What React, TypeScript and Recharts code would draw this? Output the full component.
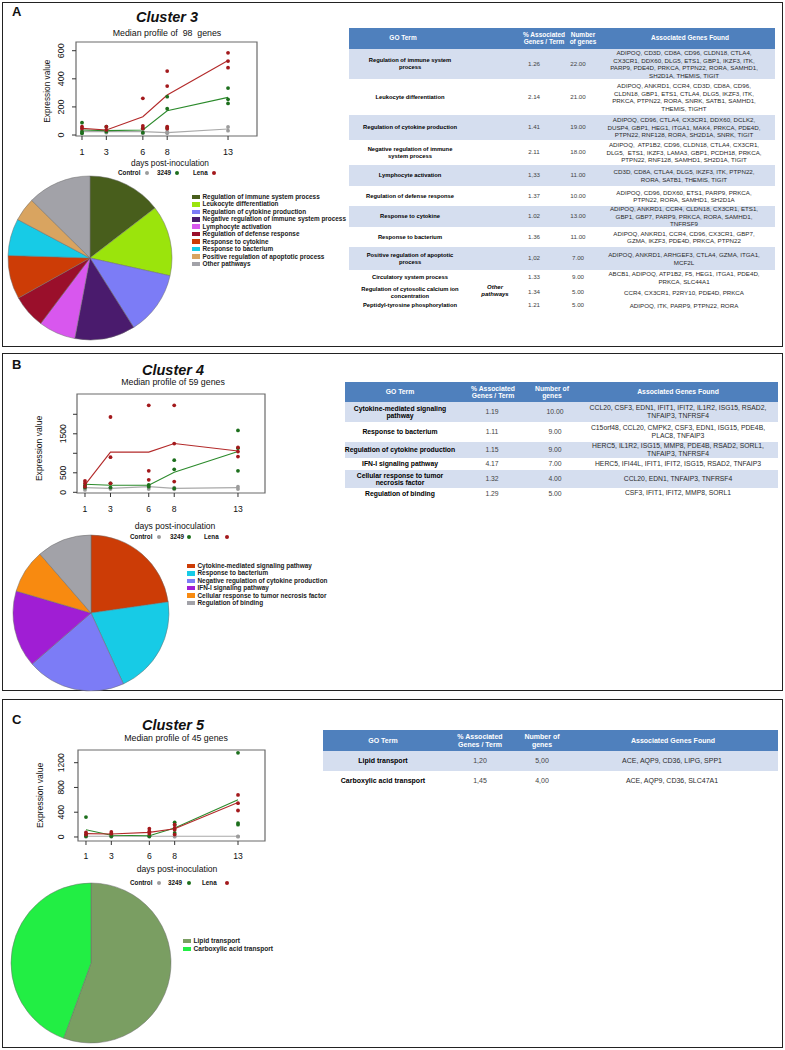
import React from "react";
import { ScatterChart, Scatter, XAxis, YAxis, ReferenceArea, PieChart, Pie, Cell } from "recharts";

const FONT = '"Liberation Sans", Arial, Helvetica, sans-serif';

// ---------- DATA ----------
const days = [1, 3, 6, 8, 13];

// Cluster 3
const c3ControlMedian = [24, 24, 24, 17, 43];
const c3S3249Median = [36, 31, 36, 173, 268];
const c3LenaMedian = [47, 36, 130, 285, 530];
const c3ControlPts = [
  { x: 1, y: 36 }, { x: 1, y: 12 }, { x: 3, y: 31 }, { x: 3, y: 17 }, { x: 6, y: 24 }, { x: 6, y: 12 },
  { x: 8, y: 24 }, { x: 8, y: 12 }, { x: 13, y: 57 }, { x: 13, y: 31 },
];
const c3S3249Pts = [
  { x: 1, y: 88 }, { x: 1, y: 24 }, { x: 1, y: 12 }, { x: 3, y: 59 }, { x: 3, y: 24 }, { x: 6, y: 47 }, { x: 6, y: 17 },
  { x: 8, y: 273 }, { x: 8, y: 187 }, { x: 8, y: 50 }, { x: 13, y: 334 }, { x: 13, y: 254 }, { x: 13, y: 225 },
];
const c3LenaPts = [
  { x: 1, y: 47 }, { x: 1, y: 59 }, { x: 3, y: 36 }, { x: 3, y: 59 }, { x: 6, y: 261 }, { x: 6, y: 64 }, { x: 6, y: 47 },
  { x: 8, y: 455 }, { x: 8, y: 348 }, { x: 8, y: 59 }, { x: 8, y: 45 }, { x: 13, y: 585 }, { x: 13, y: 526 }, { x: 13, y: 479 },
];
const c3YTicks = [0, 200, 400, 600];

// Cluster 4
const c4ControlMedian = [120, 100, 145, 100, 120];
const c4S3249Median = [205, 180, 180, 515, 1045];
const c4LenaMedian = [190, 1030, 1030, 1250, 1060];
const c4ControlPts = [
  { x: 1, y: 100 }, { x: 1, y: 60 }, { x: 3, y: 120 }, { x: 3, y: 85 }, { x: 6, y: 145 }, { x: 6, y: 85 },
  { x: 8, y: 120 }, { x: 8, y: 75 }, { x: 13, y: 145 }, { x: 13, y: 85 },
];
const c4S3249Pts = [
  { x: 1, y: 180 }, { x: 1, y: 120 }, { x: 3, y: 230 }, { x: 3, y: 120 }, { x: 6, y: 190 }, { x: 6, y: 145 },
  { x: 8, y: 823 }, { x: 8, y: 590 }, { x: 8, y: 100 }, { x: 13, y: 1585 }, { x: 13, y: 1130 }, { x: 13, y: 550 },
];
const c4LenaPts = [
  { x: 1, y: 290 }, { x: 1, y: 230 }, { x: 1, y: 145 }, { x: 3, y: 1930 }, { x: 3, y: 900 }, { x: 3, y: 230 },
  { x: 6, y: 2230 }, { x: 6, y: 550 }, { x: 6, y: 320 }, { x: 8, y: 2230 }, { x: 8, y: 1250 }, { x: 8, y: 275 },
  { x: 13, y: 1150 }, { x: 13, y: 1045 }, { x: 13, y: 915 },
];
const c4YTicks = [0, 500, 1000, 1500, 2000];
const c4YLabels = [0, 500, 1500];

// Cluster 5
const c5ControlMedian = [11, 11, 11, 11, 11];
const c5S3249Median = [118, 27, 21, 145, 600];
const c5LenaMedian = [54, 48, 75, 134, 557];
const c5ControlPts = [
  { x: 1, y: 11 }, { x: 1, y: 5 }, { x: 3, y: 11 }, { x: 3, y: 5 }, { x: 6, y: 11 }, { x: 6, y: 5 },
  { x: 8, y: 11 }, { x: 8, y: 5 }, { x: 13, y: 11 }, { x: 13, y: 5 },
];
const c5S3249Pts = [
  { x: 1, y: 321 }, { x: 1, y: 38 }, { x: 1, y: 11 }, { x: 3, y: 38 }, { x: 3, y: 11 }, { x: 6, y: 21 }, { x: 6, y: 11 },
  { x: 8, y: 236 }, { x: 8, y: 198 }, { x: 8, y: 64 }, { x: 13, y: 1360 }, { x: 13, y: 225 }, { x: 13, y: 198 },
];
const c5LenaPts = [
  { x: 1, y: 75 }, { x: 1, y: 38 }, { x: 3, y: 80 }, { x: 3, y: 54 }, { x: 6, y: 134 }, { x: 6, y: 91 }, { x: 6, y: 54 },
  { x: 8, y: 198 }, { x: 8, y: 145 }, { x: 8, y: 118 }, { x: 8, y: 38 }, { x: 13, y: 680 }, { x: 13, y: 546 }, { x: 13, y: 428 },
];
const c5YTicks = [0, 400, 800, 1200];

// Pies
const c3PieLabels = [
  "Regulation of immune system process", "Leukocyte differentiation", "Regulation of cytokine production",
  "Negative regulation of immune system process", "Lymphocyte activation", "Regulation of defense response",
  "Response to cytokine", "Response to bacterium", "Positive regulation of apoptotic process", "Other pathways",
];
const c3PieCounts = [22, 21, 19, 18, 11, 10, 13, 11, 7, 19];
const c3PieColors = ["#485e1c", "#9be40c", "#7c7cf6", "#4a1b6d", "#d857ee", "#9a0f2b", "#cd3c06", "#17cbe6", "#d9a460", "#a2a2a8"];

const c4PieLabels = [
  "Cytokine-mediated signaling pathway", "Response to bacterium", "Negative regulation of cytokine production",
  "IFN-I signaling pathway", "Cellular response to tumor necrosis factor", "Regulation of binding",
];
const c4PieCounts = [10, 9, 9, 7, 4, 5];
const c4PieColors = ["#cc3c06", "#17cbe6", "#7c7cf6", "#a01ed4", "#f88a10", "#a2a2a8"];

const c5PieLabels = ["Lipid transport", "Carboxylic acid transport"];
const c5PieCounts = [5, 4];
const c5PieColors = ["#7a9e62", "#22ee44"];

// Tables
const tHeadA = ["GO Term", "% Associated\nGenes / Term", "Number\nof genes", "Associated Genes Found"];
const tHeadBC = ["GO Term", "% Associated\nGenes / Term", "Number of\ngenes", "Associated Genes Found"];

const c3Terms = [
  "Regulation of immune system\nprocess", "Leukocyte differentiation", "Regulation of cytokine production",
  "Negative regulation of immune\nsystem process", "Lymphocyte activation", "Regulation of defense response",
  "Response to cytokine", "Response to bacterium", "Positive regulation of apoptotic\nprocess",
  "Circulatory system process", "Regulation of cytosolic calcium ion\nconcentration", "Peptidyl-tyrosine phosphorylation",
];
const c3Pct = ["1.26", "2.14", "1.41", "2.11", "1,33", "1.37", "1.02", "1.36", "1,02", "1.33", "1.34", "1.21"];
const c3Num = ["22.00", "21.00", "19.00", "18.00", "11.00", "10.00", "13.00", "11.00", "7.00", "9.00", "5.00", "5.00"];
const c3Genes = [
  "ADIPOQ, CD3D, CD8A, CD96, CLDN18, CTLA4,\nCX3CR1, DDX60, DLG5, ETS1, GBP1, IKZF3, ITK,\nPARP9, PDE4D, PRKCA, PTPN22, RORA, SAMHD1,\nSH2D1A, THEMIS, TIGIT",
  "ADIPOQ, ANKRD1, CCR4, CD3D, CD8A, CD96,\nCLDN18, GBP1, ETS1, CTLA4, DLG5, IKZF3, ITK,\nPRKCA, PTPN22, RORA, SNRK, SATB1, SAMHD1,\nTHEMIS, TIGHT",
  "ADIPOQ, CD96, CTLA4, CX3CR1, DDX60, DCLK2,\nDUSP4, GBP1, HEG1, ITGA1, MAK4, PRKCA, PDE4D,\nPTPN22, RNF128, RORA, SH2D1A, SNRK, TIGIT",
  "ADIPOQ,  ATP1B2, CD96, CLDN18, CTLA4, CX3CR1,\nDLG5,  ETS1, IKZF3, LAMA3, GBP1, PCDH18, PRKCA,\nPTPN22, RNF128, SAMHD1, SH2D1A, TIGIT",
  "CD3D, CD8A, CTLA4, DLG5, IKZF3, ITK, PTPN22,\nRORA, SATB1, THEMIS, TIGIT",
  "ADIPOQ, CD96, DDX60, ETS1, PARP9, PRKCA,\nPTPN22, RORA, SAMHD1, SH2D1A",
  "ADIPOQ, ANKRD1, CCR4, CLDN18, CX3CR1, ETS1,\nGBP1, GBP7, PARP9, PRKCA, RORA, SAMHD1,\nTNFRSF9",
  "ADIPOQ, ANKRD1, CCR4, CD96, CX3CR1, GBP7,\nGZMA, IKZF3, PDE4D, PRKCA, PTPN22",
  "ADIPOQ, ANKRD1, ARHGEF3, CTLA4, GZMA, ITGA1,\nMCF2L",
  "ABCB1, ADIPOQ, ATP1B2, F5, HEG1, ITGA1, PDE4D,\nPRKCA, SLC44A1",
  "CCR4, CX3CR1, P2RY10, PDE4D, PRKCA",
  "ADIPOQ, ITK, PARP9, PTPN22, RORA",
];

const c4Terms = [
  "Cytokine-mediated signaling\npathway", "Response to bacterium", "Regulation of cytokine production",
  "IFN-I signaling pathway", "Cellular response to tumor\nnecrosis factor", "Regulation of binding",
];
const c4Pct = ["1.19", "1.11", "1.15", "4.17", "1.32", "1.29"];
const c4Num = ["10.00", "9.00", "9.00", "7.00", "4.00", "5.00"];
const c4Genes = [
  "CCL20, CSF3, EDN1, IFIT1, IFIT2, IL1R2, ISG15, RSAD2,\nTNFAIP3, TNFRSF4",
  "C15orf48, CCL20, CMPK2, CSF3, EDN1, ISG15, PDE4B,\nPLAC8, TNFAIP3",
  "HERC5, IL1R2, ISG15, MMP8, PDE4B, RSAD2, SORL1,\nTNFAIP3, TNFRSF4",
  "HERC5, IFI44L, IFIT1, IFIT2, ISG15, RSAD2, TNFAIP3",
  "CCL20, EDN1, TNFAIP3, TNFRSF4",
  "CSF3, IFIT1, IFIT2, MMP8, SORL1",
];

const c5Terms = ["Lipid transport", "Carboxylic acid transport"];
const c5Pct = ["1,20", "1,45"];
const c5Num = ["5,00", "4,00"];
const c5Genes = ["ACE, AQP9, CD36, LIPG, SPP1", "ACE, AQP9, CD36, SLC47A1"];

// ---------- STYLE ----------
const DOT = { control: "#9c9c9c", s3249: "#1d6f1d", lena: "#a3191c" };
const LINE = { control: "#a9a9a9", s3249: "#2b8a2b", lena: "#b32a2a" };

const toPts = (ys: number[]) => days.map((d, i) => ({ x: d, y: ys[i] }));

function Txt({ x, y, size, children, bold, italic, anchor = "middle", color = "#111", rotate }: any) {
  const lh = size * 1.25;
  const style: React.CSSProperties = {
    position: "absolute",
    top: y - lh / 2,
    lineHeight: `${lh}px`,
    height: lh,
    fontSize: size,
    fontWeight: bold ? 700 : 400,
    fontStyle: italic ? "italic" : "normal",
    color,
    whiteSpace: "pre",
    fontFamily: FONT,
  };
  if (anchor === "middle") {
    style.left = x - 200;
    style.width = 400;
    style.textAlign = "center";
  } else {
    style.left = x;
  }
  if (rotate) {
    style.transform = `rotate(${rotate}deg)`;
    style.transformOrigin = "50% 50%";
  }
  return <div style={style}>{children}</div>;
}

const dotShape = (color: string) => (p: any) => <circle cx={p.cx} cy={p.cy} r={1.9} fill={color} />;
const noShape = () => <g />;

function ClusterPlot(props: any) {
  const { boxLeft, boxTop, boxRight, boxBottom, xDomain, yDomain, yTicks, yLabels, yOff, xOff, ctrlPts, s3249Pts, lenaPts, ctrlMed, s3249Med, lenaMed, tickSize } = props;
  const mTop = 6;
  const xh = 26;
  const width = boxRight + 8;
  const height = boxBottom - boxTop + mTop + xh;
  const labels = yLabels || yTicks;
  const YTick = (p: any) => {
    const v = p.payload.value;
    if (!labels.includes(v)) return <g />;
    const tx = p.x - yOff;
    return (
      <text x={tx} y={p.y} transform={`rotate(-90 ${tx} ${p.y})`} textAnchor="middle" dominantBaseline="central" fontSize={tickSize} fontFamily={FONT} fill="#111">
        {v}
      </text>
    );
  };
  const XTick = (p: any) => (
    <text x={p.x} y={p.y + xOff} textAnchor="middle" dominantBaseline="central" fontSize={tickSize} fontFamily={FONT} fill="#111">
      {p.payload.value}
    </text>
  );
  return (
    <div style={{ position: "absolute", left: 0, top: boxTop - mTop }}>
      <ScatterChart width={width} height={height} margin={{ top: mTop, right: 8, left: 0, bottom: 0 }}>
        <XAxis type="number" dataKey="x" domain={xDomain} ticks={days} allowDataOverflow axisLine={false} tickLine={{ stroke: "#333" }} tickSize={4} tickMargin={0} height={xh} tick={XTick} interval={0} />
        <YAxis type="number" dataKey="y" domain={yDomain} ticks={yTicks} allowDataOverflow axisLine={false} tickLine={{ stroke: "#333" }} tickSize={4} tickMargin={0} width={boxLeft} tick={YTick} interval={0} />
        <ReferenceArea x1={xDomain[0]} x2={xDomain[1]} y1={yDomain[0]} y2={yDomain[1]} fill="none" stroke="#6a6a6a" strokeWidth={1.2} ifOverflow="visible" />
        <Scatter data={toPts(ctrlMed)} line={{ stroke: LINE.control, strokeWidth: 1.1 }} shape={noShape} isAnimationActive={false} />
        <Scatter data={toPts(s3249Med)} line={{ stroke: LINE.s3249, strokeWidth: 1.1 }} shape={noShape} isAnimationActive={false} />
        <Scatter data={toPts(lenaMed)} line={{ stroke: LINE.lena, strokeWidth: 1.1 }} shape={noShape} isAnimationActive={false} />
        <Scatter data={ctrlPts} shape={dotShape(DOT.control)} isAnimationActive={false} />
        <Scatter data={s3249Pts} shape={dotShape(DOT.s3249)} isAnimationActive={false} />
        <Scatter data={lenaPts} shape={dotShape(DOT.lena)} isAnimationActive={false} />
      </ScatterChart>
    </div>
  );
}

function GroupLegend({ y, x1, d1, x2, d2, x3, d3 }: any) {
  const dot = (x: number, c: string) => (
    <div style={{ position: "absolute", left: x - 2, top: y - 2, width: 4, height: 4, borderRadius: 2, background: c }} />
  );
  return (
    <>
      <Txt x={x1} y={y} size={6.3} bold anchor="start">Control</Txt>
      {dot(d1, DOT.control)}
      <Txt x={x2} y={y} size={6.3} bold anchor="start">3249</Txt>
      {dot(d2, DOT.s3249)}
      <Txt x={x3} y={y} size={6.3} bold anchor="start">Lena</Txt>
      {dot(d3, DOT.lena)}
    </>
  );
}

function ClusterPie({ cx, cy, r, labels, counts, colors }: any) {
  const data = labels.map((l: string, i: number) => ({ name: l, value: counts[i] }));
  const size = r * 2 + 6;
  return (
    <div style={{ position: "absolute", left: cx - size / 2, top: cy - size / 2 }}>
      <PieChart width={size} height={size} margin={{ top: 0, right: 0, bottom: 0, left: 0 }}>
        <Pie data={data} dataKey="value" cx="50%" cy="50%" outerRadius={r} innerRadius={0} startAngle={90} endAngle={-270} stroke="#6d6d6d" strokeWidth={0.5} isAnimationActive={false}>
          {data.map((_: any, i: number) => (
            <Cell key={i} fill={colors[i]} />
          ))}
        </Pie>
      </PieChart>
    </div>
  );
}

function PieLegend({ x, y0, step, labels, colors, size }: any) {
  return (
    <>
      {labels.map((l: string, i: number) => (
        <React.Fragment key={i}>
          <div style={{ position: "absolute", left: x, top: y0 + i * step - 2.3, width: 8, height: 4.6, background: colors[i] }} />
          <Txt x={x + 10.5} y={y0 + i * step} size={size} bold anchor="start" color="#1a1a1a">{l}</Txt>
        </React.Fragment>
      ))}
    </>
  );
}

function GoTable({ left, right, headTop, headBottom, head, headCx, bodyCx, rowTops, rowBottoms, shaded, terms, pct, num, genes, hs, ts, gs, lh, glh }: any) {
  const cell = (key: string, cx: number, top: number, bottom: number, w: number, content: string, style: React.CSSProperties) => (
    <div
      key={key}
      style={{
        position: "absolute", left: cx - w / 2, width: w, top, height: bottom - top, display: "flex", alignItems: "center",
        justifyContent: "center", textAlign: "center", whiteSpace: "pre", fontFamily: FONT, ...style,
      }}
    >
      {content}
    </div>
  );
  return (
    <>
      <div style={{ position: "absolute", left, top: headTop, width: right - left, height: headBottom - headTop, background: "#4f80bd" }} />
      {head.map((h: string, i: number) =>
        cell("h" + i, headCx[i], headTop, headBottom, 160, h, { color: "#fff", fontWeight: 700, fontSize: hs, lineHeight: `${lh}px` })
      )}
      {terms.map((t: string, i: number) => (
        <React.Fragment key={i}>
          {shaded[i] ? (
            <div style={{ position: "absolute", left, top: rowTops[i], width: right - left, height: rowBottoms[i] - rowTops[i], background: "#d5deef" }} />
          ) : null}
          {cell("t" + i, bodyCx[0], rowTops[i], rowBottoms[i], 160, t, { color: "#000", fontWeight: 700, fontSize: ts, lineHeight: `${lh}px` })}
          {cell("p" + i, bodyCx[1], rowTops[i], rowBottoms[i], 40, pct[i], { color: "#444", fontSize: gs, lineHeight: `${lh}px` })}
          {cell("n" + i, bodyCx[2], rowTops[i], rowBottoms[i], 40, num[i], { color: "#444", fontSize: gs, lineHeight: `${lh}px` })}
          {cell("g" + i, bodyCx[3], rowTops[i], rowBottoms[i], 220, genes[i], { color: "#2a2a2a", fontSize: gs, lineHeight: `${glh}px` })}
        </React.Fragment>
      ))}
    </>
  );
}

const panelBox = (top: number, height: number) => (
  <div style={{ position: "absolute", left: 2, top, width: 779, height, border: "1.5px solid #222" }} />
);

export default function App() {
  return (
    <div style={{ position: "absolute", left: 0, top: 0, width: 785, height: 1050, background: "#fff", fontFamily: FONT, overflow: "hidden" }}>
      {panelBox(2, 343)}
      {panelBox(353, 336)}
      {panelBox(699, 347)}

      {/* ===== Panel A ===== */}
      <Txt x={12} y={12} size={13} bold anchor="start">A</Txt>
      <Txt x={167} y={17} size={14.5} bold italic>Cluster 3</Txt>
      <Txt x={167} y={33} size={8.8}>{"Median profile of  98  genes"}</Txt>
      <ClusterPlot
        boxLeft={76} boxTop={42} boxRight={257} boxBottom={136}
        xDomain={[0.507, 15.38]} yDomain={[-7, 662]} yTicks={c3YTicks} yOff={11} xOff={12} tickSize={9}
        ctrlPts={c3ControlPts} s3249Pts={c3S3249Pts} lenaPts={c3LenaPts}
        ctrlMed={c3ControlMedian} s3249Med={c3S3249Median} lenaMed={c3LenaMedian}
      />
      <Txt x={47} y={91} size={8.3} rotate={-90}>Expression value</Txt>
      <Txt x={170} y={163} size={8.3}>days post-inoculation</Txt>
      <GroupLegend y={173} x1={118} d1={147} x2={157} d2={177} x3={193} d3={214} />
      <ClusterPie cx={90} cy={258} r={82} labels={c3PieLabels} counts={c3PieCounts} colors={c3PieColors} />
      <PieLegend x={192} y0={197} step={7.44} labels={c3PieLabels} colors={c3PieColors} size={6.4} />
      <GoTable
        left={349} right={775} headTop={28} headBottom={49}
        head={tHeadA} headCx={[403, 544, 583, 690]} bodyCx={[410, 534, 578, 684]}
        rowTops={[49, 79, 115, 140, 165, 186, 206, 227, 247, 270, 285, 300]}
        rowBottoms={[79, 115, 140, 165, 186, 206, 227, 247, 270, 285, 300, 311]}
        shaded={[true, false, true, false, true, false, true, false, true, false, false, false]}
        terms={c3Terms} pct={c3Pct} num={c3Num} genes={c3Genes}
        hs={6.5} ts={5.8} gs={6.2} lh={6.6} glh={7.5}
      />
      <div style={{ position: "absolute", left: 470, width: 50, top: 284, height: 13, display: "flex", alignItems: "center", justifyContent: "center", textAlign: "center", whiteSpace: "pre", fontSize: 6, lineHeight: "6.3px", fontWeight: 700, fontStyle: "italic", fontFamily: FONT, color: "#000" }}>
        {"Other\npathways"}
      </div>

      {/* ===== Panel B ===== */}
      <Txt x={12} y={365} size={13} bold anchor="start">B</Txt>
      <Txt x={173} y={370} size={14.5} bold italic>Cluster 4</Txt>
      <Txt x={173} y={382} size={8.8}>Median profile of 59 genes</Txt>
      <ClusterPlot
        boxLeft={77} boxTop={394} boxRight={265} boxBottom={493}
        xDomain={[0.373, 15.12]} yDomain={[-18, 2520]} yTicks={c4YTicks} yLabels={c4YLabels} yOff={10} xOff={12} tickSize={8.6}
        ctrlPts={c4ControlPts} s3249Pts={c4S3249Pts} lenaPts={c4LenaPts}
        ctrlMed={c4ControlMedian} s3249Med={c4S3249Median} lenaMed={c4LenaMedian}
      />
      <Txt x={39} y={448} size={8.6} rotate={-90}>Expression value</Txt>
      <Txt x={175} y={526} size={8.6}>days post-inoculation</Txt>
      <GroupLegend y={537} x1={130} d1={159} x2={170} d2={189} x3={204} d3={227} />
      <ClusterPie cx={91} cy={613} r={78} labels={c4PieLabels} counts={c4PieCounts} colors={c4PieColors} />
      <PieLegend x={187} y0={566} step={7.4} labels={c4PieLabels} colors={c4PieColors} size={6.4} />
      <GoTable
        left={345} right={778} headTop={382} headBottom={402}
        head={tHeadBC} headCx={[400, 493, 552, 678]} bodyCx={[400, 492, 555, 678]}
        rowTops={[402, 422, 442, 458, 470, 488]}
        rowBottoms={[422, 442, 458, 470, 488, 499]}
        shaded={[true, false, true, false, true, false]}
        terms={c4Terms} pct={c4Pct} num={c4Num} genes={c4Genes}
        hs={6.8} ts={6.8} gs={6.8} lh={7.5} glh={8.3}
      />

      {/* ===== Panel C ===== */}
      <Txt x={12} y={720} size={13} bold anchor="start">C</Txt>
      <Txt x={173} y={725} size={14.5} bold italic>Cluster 5</Txt>
      <Txt x={176} y={738} size={8.8}>Median profile of 45 genes</Txt>
      <ClusterPlot
        boxLeft={78} boxTop={750} boxRight={265} boxBottom={841}
        xDomain={[0.37, 15.13]} yDomain={[-65, 1405]} yTicks={c5YTicks} yOff={13} xOff={11} tickSize={8.6}
        ctrlPts={c5ControlPts} s3249Pts={c5S3249Pts} lenaPts={c5LenaPts}
        ctrlMed={c5ControlMedian} s3249Med={c5S3249Median} lenaMed={c5LenaMedian}
      />
      <Txt x={40} y={795} size={8.6} rotate={-90}>Expression value</Txt>
      <Txt x={177} y={869} size={8.6}>days post-inoculation</Txt>
      <GroupLegend y={883} x1={130} d1={159} x2={168} d2={189} x3={202} d3={227} />
      <ClusterPie cx={91} cy={963} r={80} labels={c5PieLabels} counts={c5PieCounts} colors={c5PieColors} />
      <PieLegend x={183} y0={941} step={8} labels={c5PieLabels} colors={c5PieColors} size={6.6} />
      <GoTable
        left={323} right={778} headTop={730} headBottom={751}
        head={tHeadBC} headCx={[383, 480, 542, 673]} bodyCx={[383, 480, 542, 672]}
        rowTops={[751, 771]}
        rowBottoms={[771, 791]}
        shaded={[true, false]}
        terms={c5Terms} pct={c5Pct} num={c5Num} genes={c5Genes}
        hs={7} ts={7} gs={7} lh={7.8} glh={8}
      />
    </div>
  );
}
